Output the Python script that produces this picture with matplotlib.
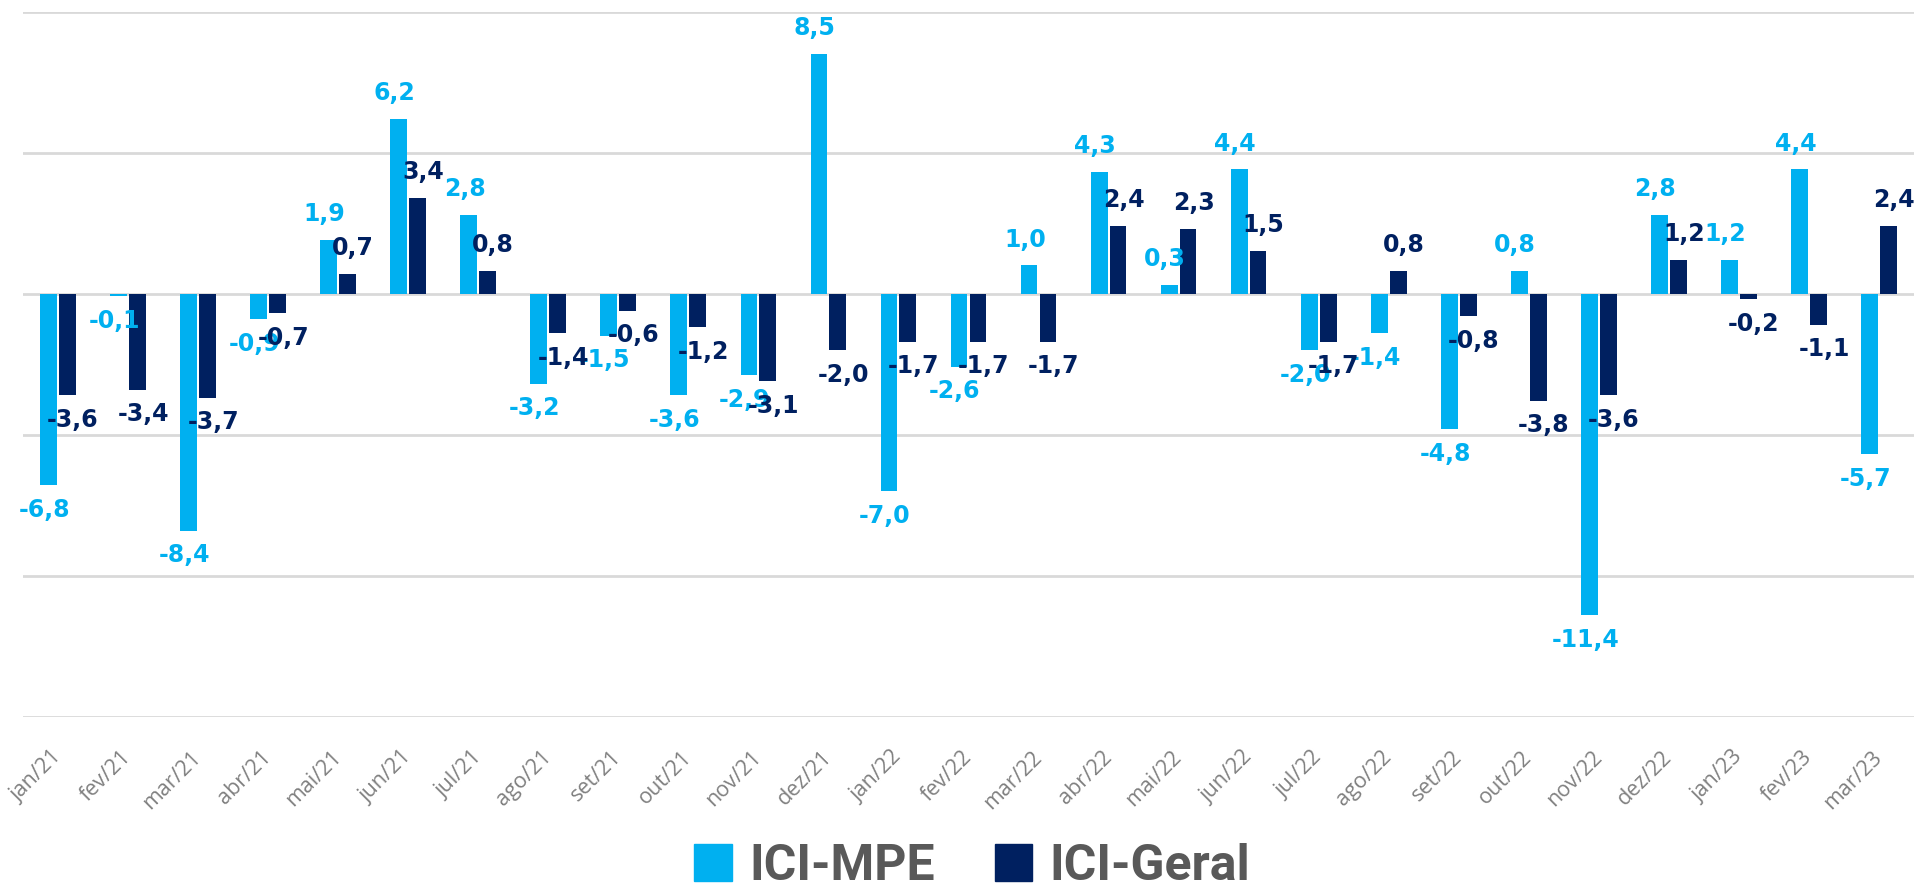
import matplotlib
matplotlib.use("Agg")
import matplotlib.pyplot as plt
from matplotlib.patches import Patch
import numpy as np

# dados
meses = ["jan/21", "fev/21", "mar/21", "abr/21", "mai/21", "jun/21", "jul/21",
         "ago/21", "set/21", "out/21", "nov/21", "dez/21", "jan/22", "fev/22",
         "mar/22", "abr/22", "mai/22", "jun/22", "jul/22", "ago/22", "set/22",
         "out/22", "nov/22", "dez/22", "jan/23", "fev/23", "mar/23"]
ici_mpe = [-6.8, -0.1, -8.4, -0.9, 1.9, 6.2, 2.8, -3.2, -1.5, -3.6, -2.9, 8.5,
           -7.0, -2.6, 1.0, 4.3, 0.3, 4.4, -2.0, -1.4, -4.8, 0.8, -11.4, 2.8,
           1.2, 4.4, -5.7]
ici_geral = [-3.6, -3.4, -3.7, -0.7, 0.7, 3.4, 0.8, -1.4, -0.6, -1.2, -3.1, -2.0,
             -1.7, -1.7, -1.7, 2.4, 2.3, 1.5, -1.7, 0.8, -0.8, -3.8, -3.6, 1.2,
             -0.2, -1.1, 2.4]

cor_mpe = "#00B0F0"
cor_geral = "#002060"
cinza = "#595959"

fig = plt.figure(figsize=(19.14, 8.86), dpi=100)
ax = fig.add_axes([0.012, 0.191, 0.988, 0.796])

x = np.arange(len(meses))
w = 0.24
off = 0.135
b1 = ax.bar(x - off, ici_mpe, w, color=cor_mpe, zorder=3)
b2 = ax.bar(x + off, ici_geral, w, color=cor_geral, zorder=3)


def rotulos(bars, vals, cor, dx):
    for bar, v in zip(bars, vals):
        cx = bar.get_x() + bar.get_width() / 2
        txt = f"{v:.1f}".replace(".", ",")
        if v >= 0:
            ax.annotate(txt, (cx, v), xytext=(dx, 10), textcoords="offset points",
                        ha="center", va="bottom", fontsize=17, fontweight="bold",
                        color=cor, family="DejaVu Sans", zorder=5)
        else:
            ax.annotate(txt, (cx, v), xytext=(dx, -9), textcoords="offset points",
                        ha="center", va="top", fontsize=17, fontweight="bold",
                        color=cor, family="DejaVu Sans", zorder=5)


rotulos(b1, ici_mpe, cor_mpe, -3)
rotulos(b2, ici_geral, cor_geral, 4)

ax.set_ylim(-15, 10)
ax.set_xlim(-0.5, len(meses) - 0.5)
ax.set_yticks([-15, -10, -5, 0, 5, 10])
ax.set_yticklabels([])
ax.tick_params(axis="y", length=0)
ax.grid(axis="y", color="#D9D9D9", linewidth=2, zorder=0)
for s in ax.spines.values():
    s.set_visible(False)

ax.set_xticks(x)
ax.set_xticklabels(meses, rotation=45, ha="right", va="center", rotation_mode="anchor",
                   fontsize=15.5, color="#808080", family="Open Sans")
ax.tick_params(axis="x", length=0, pad=27)

handles = [Patch(color=cor_mpe, label="ICI-MPE"), Patch(color=cor_geral, label="ICI-Geral")]
fig.legend(handles=handles, loc="lower center", bbox_to_anchor=(0.508, -0.055), ncol=2,
           frameon=False, handlelength=0.75, handleheight=0.75, handletextpad=0.35,
           columnspacing=1.2, prop={"family": "Roboto", "weight": "bold", "size": 36},
           labelcolor=cinza)

fig.savefig("out.png", dpi=100)
plt.close()
